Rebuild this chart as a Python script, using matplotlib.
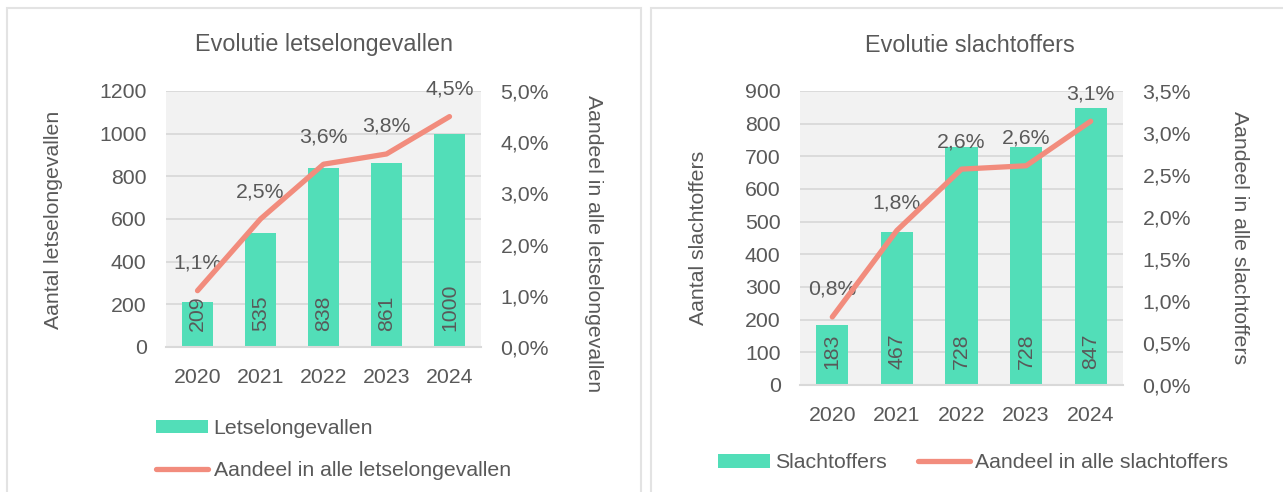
import numpy as np
import matplotlib
matplotlib.use('Agg')
import matplotlib.pyplot as plt
from matplotlib.patches import Rectangle
from matplotlib.ticker import FuncFormatter, MultipleLocator

years = ['2020', '2021', '2022', '2023', '2024']

# letselongevallen
ongevallen = [209, 535, 838, 861, 1000]
aandeel_ongevallen = [1.1, 2.5, 3.57, 3.77, 4.5]

# slachtoffers
slachtoffers = [183, 467, 728, 728, 847]
aandeel_slachtoffers = [0.81, 1.84, 2.57, 2.61, 3.14]

BAR = '#52DEB8'
LINE = '#F28C7D'
TXT = '#595959'
GRID = '#D9D9D9'
FS = 15.3

plt.rcParams['font.family'] = ['Liberation Sans', 'DejaVu Sans']
plt.rcParams['text.color'] = TXT

W, H = 1283, 492
fig = plt.figure(figsize=(W / 100, H / 100), dpi=100)


def fx(px):
    return px / W


def fy(py):
    return 1 - py / H


def pct(v, pos=None):
    return ('%.1f%%' % v).replace('.', ',')


def panel(rect, counts, shares, ymax, ystep, pmax, pstep):
    ax = fig.add_axes(rect)
    ax.set_facecolor('#F2F2F2')
    x = np.arange(len(years))
    ax.bar(x, counts, width=0.5, color=BAR, zorder=2)
    ax.set_xlim(-0.5, len(years) - 0.5)
    ax.set_ylim(0, ymax)
    ax.yaxis.set_major_locator(MultipleLocator(ystep))
    ax.set_xticks(x)
    ax.set_xticklabels(years)
    ax.grid(axis='y', color=GRID, lw=1.3, zorder=0)
    ax.set_axisbelow(True)
    for s in ['top', 'left', 'right']:
        ax.spines[s].set_visible(False)
    ax.spines['bottom'].set_color(GRID)
    ax.spines['bottom'].set_linewidth(1.5)
    ax.tick_params(length=0, labelsize=FS, colors=TXT)
    ax.tick_params(axis='x', pad=15)
    ax.tick_params(axis='y', pad=14)
    for xi, c in zip(x, counts):
        ax.annotate(str(c), (xi, 0), xytext=(0, 16), textcoords='offset pixels',
                    rotation=90, ha='center', va='bottom', fontsize=FS, color=TXT, zorder=3)

    ax2 = ax.twinx()
    ax2.plot(x, shares, color=LINE, lw=3.8, solid_capstyle='round', zorder=4)
    ax2.set_ylim(0, pmax)
    ax2.yaxis.set_major_locator(MultipleLocator(pstep))
    ax2.yaxis.set_major_formatter(FuncFormatter(pct))
    for s in ax2.spines.values():
        s.set_visible(False)
    ax2.tick_params(length=0, labelsize=FS, colors=TXT, pad=14)
    for xi, v in zip(x, shares):
        ax2.annotate(pct(v), (xi, v), xytext=(0, 18), textcoords='offset pixels',
                     ha='center', va='bottom', fontsize=FS, color=TXT)
    return ax, ax2


# panel borders
fig.patches.append(Rectangle((fx(7), fy(500)), fx(634), fy(8) - fy(500), transform=fig.transFigure,
                             fill=False, edgecolor='#E3E3E3', lw=1.5))
fig.patches.append(Rectangle((fx(651), fy(500)), fx(640), fy(8) - fy(500), transform=fig.transFigure,
                             fill=False, edgecolor='#E3E3E3', lw=1.5))

# left panel
axL, axL2 = panel([fx(166), fy(347), fx(315), (347 - 91) / H], ongevallen, aandeel_ongevallen,
                  1200, 200, 5.0, 1.0)
fig.text(fx(324), fy(45), 'Evolutie letselongevallen', ha='center', va='center', fontsize=16.8)
fig.text(fx(54), fy(220), 'Aantal letselongevallen', rotation=90, ha='center', va='center', fontsize=FS)
fig.text(fx(594), fy(244), 'Aandeel in alle letselongevallen', rotation=270, ha='center', va='center', fontsize=FS)
fig.legend([axL.containers[0], axL2.get_lines()[0]], ['Letselongevallen', 'Aandeel in alle letselongevallen'],
           loc='upper left', bbox_to_anchor=(fx(137), fy(400)), frameon=False,
           fontsize=FS, handlelength=2.45, handleheight=0.6, handletextpad=0.25,
           labelspacing=1.1, labelcolor=TXT)

# right panel
axR, axR2 = panel([fx(800), fy(385), fx(323), (385 - 91) / H], slachtoffers, aandeel_slachtoffers,
                  900, 100, 3.5, 0.5)
fig.text(fx(970), fy(45), 'Evolutie slachtoffers', ha='center', va='center', fontsize=16.8)
fig.text(fx(699), fy(238), 'Aantal slachtoffers', rotation=90, ha='center', va='center', fontsize=FS)
fig.text(fx(1240), fy(238), 'Aandeel in alle slachtoffers', rotation=270, ha='center', va='center', fontsize=FS)
fig.legend([axR.containers[0], axR2.get_lines()[0]], ['Slachtoffers', 'Aandeel in alle slachtoffers'],
           loc='center left', bbox_to_anchor=(fx(699), fy(463)), frameon=False, ncol=2,
           fontsize=FS, handlelength=2.45, handleheight=0.6, handletextpad=0.25,
           columnspacing=1.45, labelcolor=TXT)

fig.savefig('out.png', dpi=100)
